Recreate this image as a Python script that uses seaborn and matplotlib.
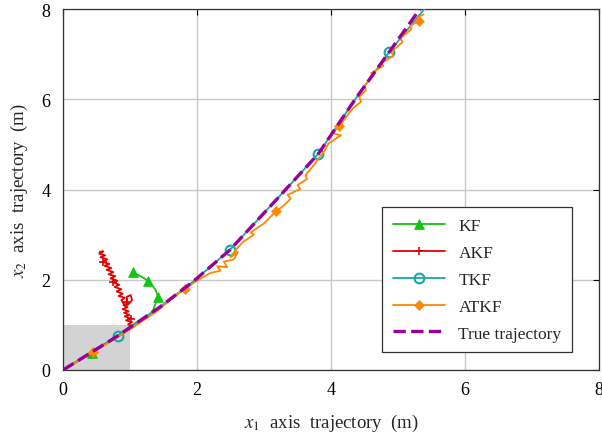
import matplotlib
matplotlib.use("Agg")
import matplotlib.pyplot as plt
import seaborn as sns
from matplotlib.patches import Rectangle

# --- data (metres) ---
true_x = [0.0, 0.4, 0.82, 1.45, 1.95, 2.49, 3.2, 3.81, 4.36, 4.87, 5.35]
true_y = [0.0, 0.37, 0.76, 1.4, 1.97, 2.66, 3.8, 4.79, 6.0, 7.05, 8.05]

tkf_x = [0.0, 0.4, 0.82, 1.45, 1.95, 2.49, 3.2, 3.81, 4.36, 4.87, 5.42]
tkf_y = [0.0, 0.37, 0.76, 1.4, 1.97, 2.66, 3.8, 4.79, 6.0, 7.05, 8.05]
tkf_marks = [2, 5, 7, 9]

kf_x = [0.0, 0.43, 0.82, 1.1, 1.22, 1.34, 1.42, 1.38, 1.27, 1.18, 1.04]
kf_y = [0.0, 0.38, 0.76, 1.06, 1.13, 1.31, 1.62, 1.78, 1.98, 2.06, 2.17]
kf_marks = [1, 6, 8, 10]

akf_x = [0.0, 0.5, 0.82, 1.0, 1.04, 0.97, 1.03, 0.94, 1.01, 0.92, 0.99, 0.91,
         0.98, 0.89, 0.96, 0.9, 0.97, 1.03, 1.01, 0.95, 0.96, 0.9, 0.87, 0.92,
         0.83, 0.89, 0.8, 0.87, 0.77, 0.84, 0.74, 0.81, 0.71, 0.78, 0.68, 0.75,
         0.65, 0.72, 0.62, 0.69, 0.59, 0.66, 0.56, 0.63, 0.54, 0.6, 0.55]
akf_y = [0.0, 0.46, 0.76, 0.94, 0.97, 1.01, 1.06, 1.1, 1.14, 1.19, 1.22, 1.27,
         1.3, 1.35, 1.39, 1.44, 1.45, 1.55, 1.66, 1.62, 1.5, 1.48, 1.55, 1.6,
         1.64, 1.69, 1.74, 1.79, 1.84, 1.89, 1.94, 1.98, 2.03, 2.08, 2.12, 2.17,
         2.22, 2.26, 2.31, 2.35, 2.4, 2.45, 2.5, 2.54, 2.58, 2.63, 2.62]
akf_marks = [8, 20, 30, 40]

atkf_x = [0.0, 0.2, 0.45, 0.7, 0.85, 1.0, 1.2, 1.4, 1.6, 1.82, 2.0, 2.2,
          2.35, 2.3, 2.45, 2.4, 2.55, 2.61, 2.5, 2.6, 2.69, 2.85, 2.8, 3.0,
          3.18, 3.3, 3.4, 3.35, 3.54, 3.5, 3.64, 3.62, 3.75, 3.82, 3.9, 3.96,
          4.15, 4.02, 4.12, 4.2, 4.26, 4.33, 4.45, 4.42, 4.52, 4.5, 4.62, 4.6,
          4.78, 4.75, 4.93, 4.9, 5.07, 5.03, 5.2, 5.18, 5.31, 5.3, 5.38]
atkf_y = [0.0, 0.17, 0.4, 0.62, 0.76, 0.9, 1.1, 1.3, 1.55, 1.8, 1.98, 2.15,
          2.2, 2.3, 2.28, 2.4, 2.45, 2.62, 2.5, 2.7, 2.84, 3.0, 3.05, 3.25,
          3.52, 3.65, 3.8, 3.88, 4.01, 4.1, 4.23, 4.32, 4.55, 4.7, 4.85, 5.02,
          5.2, 5.25, 5.4, 5.55, 5.68, 5.8, 5.95, 6.05, 6.2, 6.3, 6.5, 6.58,
          6.74, 6.8, 6.96, 7.05, 7.27, 7.35, 7.55, 7.62, 7.74, 7.82, 7.88]
atkf_marks = [2, 9, 24, 38, 56]

zoom_box = [0.0, 1.0, 0.0, 1.0]  # x0, x1, y0, y1
ticks = [0, 2, 4, 6, 8]

sns.set_style("white")
plt.rcParams["font.family"] = ["Liberation Serif", "DejaVu Serif"]
plt.rcParams["mathtext.fontset"] = "stix"

fig = plt.figure(figsize=(6.02, 4.39), dpi=100)
ax = fig.add_axes([0.1047, 0.1549, 0.8904, 0.8223])

ax.add_patch(Rectangle((zoom_box[0], zoom_box[2]), zoom_box[1] - zoom_box[0],
                       zoom_box[3] - zoom_box[2], facecolor="#d3d3d3",
                       edgecolor="none", zorder=0.5))

common = dict(sort=False, estimator=None, ax=ax, linewidth=1.3)
sns.lineplot(x=kf_x, y=kf_y, color="#12c412", marker="^", markersize=7,
             markevery=kf_marks, markeredgecolor="#12c412", markeredgewidth=0.5,
             label="KF", zorder=3, **common)
sns.lineplot(x=akf_x, y=akf_y, color="#e80000", marker="+", markersize=6,
             markevery=akf_marks, markeredgecolor="#e80000", markeredgewidth=1.2,
             label="AKF", zorder=3, **common)
sns.lineplot(x=tkf_x, y=tkf_y, color="#16a8a8", marker="o", markersize=7,
             markevery=tkf_marks, markerfacecolor="none", markeredgecolor="#16a8a8",
             markeredgewidth=1.5, label="TKF", zorder=3, **common)
sns.lineplot(x=atkf_x, y=atkf_y, color="#ff8800", marker="D", markersize=5,
             markevery=atkf_marks, markeredgecolor="#ff8800", markeredgewidth=0.5,
             label="ATKF", zorder=4, **common)
sns.lineplot(x=true_x, y=true_y, color="#990099", linestyle="--", dashes=(3.5, 2),
             label="True trajectory", zorder=5, sort=False, estimator=None,
             ax=ax, linewidth=2.4)

ax.set_xlim(0, 8)
ax.set_ylim(0, 8)
ax.set_xticks(ticks)
ax.set_yticks(ticks)
ax.grid(True, color="#c8c8c8", linewidth=1.0, zorder=0)
ax.set_axisbelow(True)
ax.tick_params(direction="in", top=True, right=True, length=4, width=0.8,
               labelsize=13, colors="black")
ax.tick_params(axis="x", pad=8)
ax.tick_params(axis="y", pad=9)
for s in ax.spines.values():
    s.set_color("#333333")
    s.set_linewidth(0.9)

ax.set_xlabel("$x_1$  axis  trajectory  (m)", fontsize=13.5, labelpad=10)
ax.set_ylabel("$x_2$  axis  trajectory  (m)", fontsize=13.5, labelpad=8)

leg = ax.legend(loc="lower right", bbox_to_anchor=(0.9496, 0.05), borderaxespad=0,
                fontsize=12.5, frameon=True, fancybox=False, edgecolor="#333333",
                handlelength=3.0, borderpad=0.6, labelspacing=0.62)
leg.get_frame().set_linewidth(0.9)
leg.get_frame().set_alpha(1)

fig.savefig("out.png", dpi=100)
plt.close(fig)
